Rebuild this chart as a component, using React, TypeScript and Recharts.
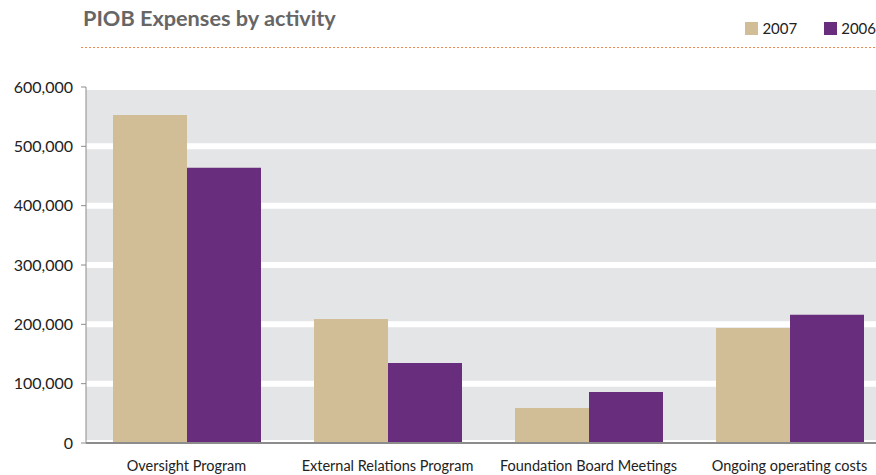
import { BarChart, Bar, XAxis, YAxis, CartesianGrid } from "recharts";

const categories = [
  "Oversight Program",
  "External Relations Program",
  "Foundation Board Meetings",
  "Ongoing operating costs",
];
const expenses2007 = [553000, 209000, 59000, 194000];
const expenses2006 = [464000, 135000, 86000, 216000];
const yTicks = [0, 100000, 200000, 300000, 400000, 500000, 600000];
const edgeTicks = [0, 1, 2, 3, 4];

const TAN = "#d2be96";
const PURPLE = "#682d7c";
const AXIS = "#8c8c8c";
const FONT = "Lato, 'Open Sans', sans-serif";

const data = categories.map((name, i) => ({
  name,
  y2007: expenses2007[i],
  y2006: expenses2006[i],
}));

function LegendItem({ color, label }: { color: string; label: string }) {
  return (
    <div style={{ display: "flex", alignItems: "center", gap: 4 }}>
      <div style={{ width: 13, height: 13, background: color }} />
      <span style={{ fontSize: 15, color: "#222" }}>{label}</span>
    </div>
  );
}

export default function App() {
  return (
    <div
      style={{
        position: "absolute",
        left: 0,
        top: 0,
        width: 876,
        height: 475,
        overflow: "hidden",
        background: "#fff",
        fontFamily: FONT,
      }}
    >
      <div
        style={{
          position: "absolute",
          left: 83,
          top: 5,
          fontSize: 21.7,
          fontWeight: 700,
          color: "#666",
        }}
      >
        PIOB Expenses by activity
      </div>
      <div
        style={{
          position: "absolute",
          right: 0,
          top: 19,
          display: "flex",
          gap: 27,
        }}
      >
        <LegendItem color={TAN} label="2007" />
        <LegendItem color={PURPLE} label="2006" />
      </div>
      <div
        style={{
          position: "absolute",
          left: 81,
          top: 47,
          width: 795,
          height: 1,
          background:
            "repeating-linear-gradient(to right, #ee8a50 0 2px, transparent 2px 4px)",
        }}
      />
      <BarChart
        width={892}
        height={475}
        data={data}
        margin={{ top: 87, right: 2, bottom: 2, left: 0 }}
        barGap={0}
        barSize={74}
        style={{ position: "absolute", left: 0, top: 0 }}
      >
        <CartesianGrid
          xAxisId="b"
          vertical={false}
          fill="#e4e5e7"
          fillOpacity={1}
          stroke="#fff"
          strokeWidth={6}
        />
        {/* boundary ticks between the categories */}
        <XAxis
          xAxisId="a"
          type="number"
          domain={[0, 4]}
          ticks={edgeTicks}
          tick={false}
          axisLine={{ stroke: AXIS, strokeWidth: 2 }}
          tickLine={{ stroke: AXIS }}
          tickSize={6}
          height={6}
        />
        <XAxis
          xAxisId="b"
          dataKey="name"
          height={24}
          axisLine={false}
          tickLine={false}
          tickMargin={6}
          interval={0}
          tick={{ fill: "#222", fontSize: 14.5, fontFamily: FONT }}
        />
        <YAxis
          width={86}
          domain={[0, 600000]}
          ticks={yTicks}
          axisLine={{ stroke: AXIS }}
          tickLine={{ stroke: AXIS }}
          tickSize={5}
          tickMargin={8}
          tick={{ fill: "#222", fontSize: 16, fontFamily: FONT }}
          tickFormatter={(v: number) => v.toLocaleString("en-US")}
        />
        <Bar xAxisId="b" dataKey="y2007" fill={TAN} isAnimationActive={false} />
        <Bar xAxisId="b" dataKey="y2006" fill={PURPLE} isAnimationActive={false} />
      </BarChart>
    </div>
  );
}
